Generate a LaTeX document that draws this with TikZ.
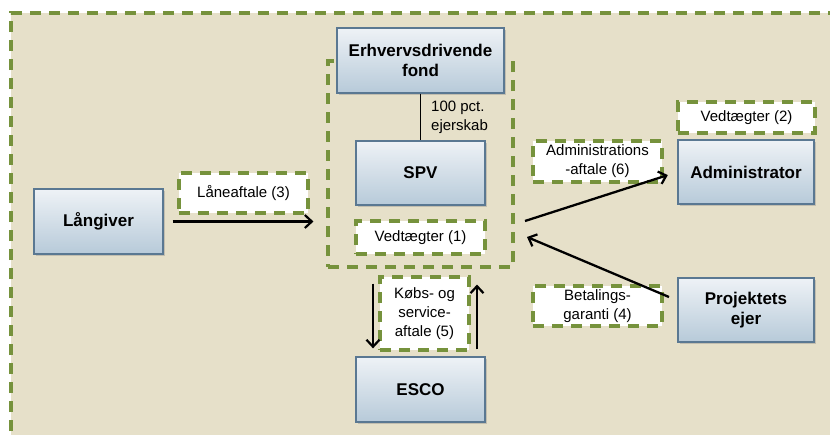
\documentclass[tikz,border=0pt]{standalone}
\usepackage{fontspec}
\setmainfont{Liberation Sans}
\usetikzlibrary{arrows.meta,shadows}
\definecolor{bgbeige}{HTML}{E6E0C9}
\definecolor{olivedash}{HTML}{76923C}
\definecolor{boxtop}{HTML}{EEF2F6}
\definecolor{boxbot}{HTML}{B7CAD9}
\definecolor{boxedge}{HTML}{5A7892}
\tikzset{
  party/.style={draw=boxedge, line width=1.3pt, top color=boxtop, bottom color=boxbot,
    align=center, font=\fontsize{17}{20}\selectfont\bfseries, inner sep=2pt,
    drop shadow={shadow xshift=2pt, shadow yshift=-2pt, opacity=0.35}},
  greendash/.style={draw=olivedash, line width=3.1pt, dash pattern=on 11pt off 8pt},
  doclabel/.style={greendash, fill=white, align=center, inner sep=1pt,
    font=\fontsize{15}{19}\selectfont},
  arr/.style={-{Straight Barb[length=7pt,width=13pt,line width=2.2pt]}, line width=2.3pt, black},
}
\begin{document}
\begin{tikzpicture}[x=1pt,y=-1pt]
  \clip (0,0) rectangle (830,434);
  % background panel with dashed frame
  \fill[bgbeige] (11,13) rectangle (850,450);
  \draw[greendash, line width=3.4pt] (11,450) -- (11,13) -- (850,13);

  % SPV group frame
  \node[greendash, minimum width=185pt, minimum height=206pt, inner sep=0pt] (group) at (420.5,164) {};

  % parties
  \node[party, minimum width=167pt, minimum height=65pt] (fond) at (420.5,60.5) {Erhvervsdrivende\\fond};
  \node[party, minimum width=129pt, minimum height=64pt] (spv) at (420.5,173) {SPV};
  \node[party, minimum width=129pt, minimum height=65pt] (lang) at (98.5,221.5) {Långiver};
  \node[party, minimum width=129pt, minimum height=65pt] (esco) at (420.5,389.5) {ESCO};
  \node[party, minimum width=136pt, minimum height=64pt] (admin) at (746,172) {Administrator};
  \node[party, minimum width=136pt, minimum height=64pt] (proj) at (746,310) {Projektets\\ejer};

  % agreements
  \node[doclabel, minimum width=129pt, minimum height=33pt] (ved1) at (420.5,237.5) {Vedtægter (1)};
  \node[doclabel, minimum width=137pt, minimum height=31pt] (ved2) at (746.5,117.5) {Vedtægter (2)};
  \node[doclabel, minimum width=129pt, minimum height=40pt] (lane) at (243.5,193) {Låneaftale (3)};
  \node[doclabel, minimum width=129pt, minimum height=40pt] (bet) at (597.5,306) {Betalings-\\garanti (4)};
  \node[doclabel, minimum width=89pt, minimum height=73pt] (kob) at (424.5,313.5) {Købs- og\\service-\\aftale (5)};
  \node[doclabel, minimum width=129pt, minimum height=41pt] (adm) at (597.5,161.5) {Administrations\\-aftale (6)};

  % ownership
  \draw[line width=1.2pt] (fond.south) -- (spv.north);
  \node[anchor=west, align=left, inner sep=0pt, font=\fontsize{15}{19}\selectfont] (own) at (431,117) {100 pct.\\ejerskab};

  % flows
  \coordinate (gOut) at (525,221);
  \coordinate (gIn) at (527,237);
  \coordinate (pOut) at (669,297);
  \draw[arr, shorten <=9pt, shorten >=13pt] (lang.east) -- (lang.east -| group.west);
  \draw[arr, shorten >=10pt] (gOut) -- (admin.west);
  \draw[arr] (pOut) -- (gIn);
  \draw[arr, shorten <=15pt, shorten >=8pt] ([xshift=-47.5pt]group.south) -- ([xshift=-47.5pt]esco.north);
  \draw[arr, shorten <=7pt, shorten >=16pt] ([xshift=56.5pt]esco.north) -- ([xshift=56.5pt]group.south);
\end{tikzpicture}
\end{document}
